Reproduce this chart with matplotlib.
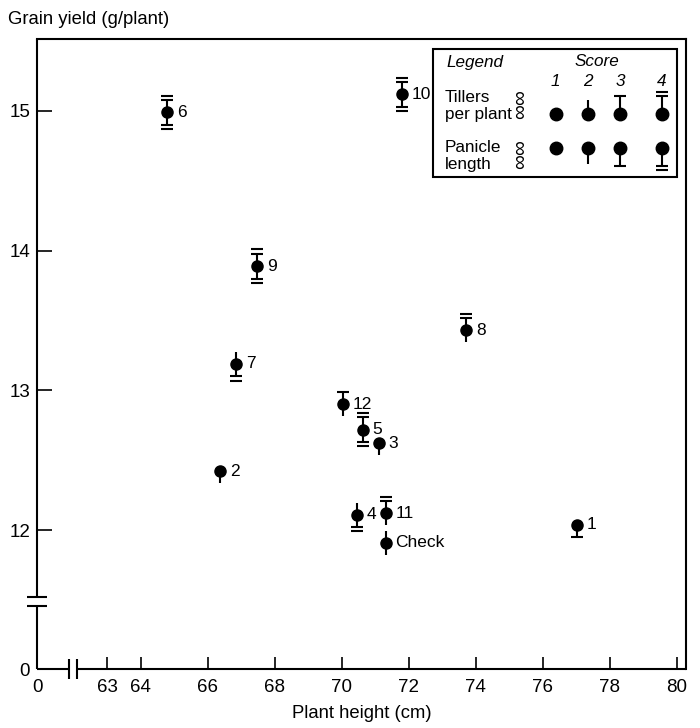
import matplotlib
matplotlib.use('Agg')
import matplotlib.pyplot as plt
from matplotlib.transforms import ScaledTranslation
from matplotlib.patches import Rectangle

plt.rcParams['font.family'] = ['Liberation Sans', 'DejaVu Sans']

# ---- data ----
labels = ['1', '2', '3', '4', '5', '6', '7', '8', '9', '10', '11', '12', 'Check']
plant_height = [77.03, 66.37, 71.12, 70.46, 70.64, 64.79, 66.85, 73.72, 67.48, 71.80, 71.32, 70.04, 71.32]
grain_yield = [12.04, 12.42, 12.62, 12.11, 12.72, 14.99, 13.19, 13.43, 13.89, 15.12, 12.12, 12.90, 11.91]
tillers_score = [1, 1, 1, 2, 4, 4, 2, 4, 4, 4, 4, 3, 2]
panicle_score = [3, 2, 2, 4, 4, 4, 4, 2, 4, 4, 2, 2, 2]

xtick_vals = [63, 64, 66, 68, 70, 72, 74, 76, 78, 80]
ytick_vals = [12, 13, 14, 15]
score_labels = ['1', '2', '3', '4']

XMIN, XMAX = 60.91, 80.28
YMIN, YMAX = 11.006, 15.515

W, H = 700, 728
fig = plt.figure(figsize=(W / 100, H / 100), dpi=100)
ax = fig.add_axes([37 / W, 1 - 669 / H, (686 - 37) / W, (669 - 39) / H])
ax.set_xlim(XMIN, XMAX)
ax.set_ylim(YMIN, YMAX)

LW = 1.5
for s in ['left', 'bottom']:
    ax.spines[s].set_visible(False)
for s in ['top', 'right']:
    ax.spines[s].set_linewidth(LW)

# broken axes drawn by hand
yb_lo, yb_hi = 11.457, 11.521
xb_lo, xb_hi = 61.866, 62.104
dx = 10 / 33.5
dy = 10 / 139.7
kw = dict(color='k', lw=LW, clip_on=False, solid_capstyle='butt')
ax.plot([XMIN, XMIN], [YMIN, yb_lo], **kw)
ax.plot([XMIN, XMIN], [yb_hi, YMAX], **kw)
ax.plot([XMIN - dx, XMIN + dx], [yb_lo, yb_lo], **kw)
ax.plot([XMIN - dx, XMIN + dx], [yb_hi, yb_hi], **kw)
ax.plot([XMIN, xb_lo], [YMIN, YMIN], **kw)
ax.plot([xb_hi, XMAX], [YMIN, YMIN], **kw)
ax.plot([xb_lo, xb_lo], [YMIN - dy, YMIN + dy], **kw)
ax.plot([xb_hi, xb_hi], [YMIN - dy, YMIN + dy], **kw)

ax.set_xticks([XMIN] + xtick_vals)
ax.set_xticklabels(['0'] + [str(v) for v in xtick_vals])
ax.set_yticks([YMIN] + ytick_vals)
ax.set_yticklabels(['0'] + [str(v) for v in ytick_vals])
ax.tick_params(axis='x', direction='in', length=8.6, width=1.2, pad=7, labelsize=13.5)
ax.tick_params(axis='y', direction='in', length=10.8, width=1.2, pad=5, labelsize=13.5)

ax.set_xlabel('Plant height (cm)', fontsize=13.3, labelpad=7)
fig.text(8 / W, 1 - 20 / H, 'Grain yield (g/plant)', fontsize=13.3, ha='left', va='center')


def off(base, dxp, dyp):
    return base + ScaledTranslation(dxp / 72, dyp / 72, fig.dpi_scale_trans)


def glyph(x, y, t, p, base, circ, stem2, cap, cap2, capw, lw):
    ax.plot([x], [y], 'o', ms=circ, color='k', mec='k', transform=base, clip_on=False, zorder=4)
    for sgn, score in [(1, t), (-1, p)]:
        if score >= 2:
            L = stem2 if score == 2 else cap
            ax.plot([x], [y], marker='|', ms=L, mew=lw, color='k',
                    transform=off(base, 0, sgn * L / 2), clip_on=False, zorder=3)
        if score >= 3:
            ax.plot([x], [y], marker='_', ms=capw, mew=lw, color='k',
                    transform=off(base, 0, sgn * cap), clip_on=False, zorder=3)
        if score >= 4:
            ax.plot([x], [y], marker='_', ms=capw, mew=lw, color='k',
                    transform=off(base, 0, sgn * cap2), clip_on=False, zorder=3)


for lab, x, y, t, p in zip(labels, plant_height, grain_yield, tillers_score, panicle_score):
    glyph(x, y, t, p, ax.transData, circ=8.0, stem2=8.6, cap=9.0, cap2=12.0, capw=8.0, lw=1.5)
    ax.annotate(lab, (x, y), xytext=(7.0, 0), textcoords='offset points',
                ha='left', va='center', fontsize=12.5)

# ---- legend box (figure pixel coordinates) ----
def P(px, py):
    return px / W, 1 - py / H


tf = fig.transFigure
x0, y0 = P(433, 177)
x1, y1 = P(677, 49)
fig.patches.append(Rectangle((x0, y0), x1 - x0, y1 - y0, transform=tf, fill=False,
                             lw=LW, edgecolor='k'))
fig.text(*P(446, 62), 'Legend', style='italic', fontsize=12.3, ha='left', va='center')
fig.text(*P(597, 62), 'Score', style='italic', fontsize=12.3, ha='center', va='center')
col_x = [555.7, 588.3, 620, 661.7]
for cx, sl in zip(col_x, score_labels):
    fig.text(*P(cx, 81), sl, style='italic', fontsize=12.3, ha='center', va='center')
fig.text(*P(445, 97), 'Tillers', fontsize=12.3, ha='left', va='center')
fig.text(*P(445, 114), 'per plant', fontsize=12.3, ha='left', va='center')
fig.text(*P(445, 147), 'Panicle', fontsize=12.3, ha='left', va='center')
fig.text(*P(445, 164), 'length', fontsize=12.3, ha='left', va='center')
for yy in [98, 112, 148, 162]:
    fig.text(*P(521, yy), '\u221e', fontsize=15, rotation=90, ha='center', va='center')

for i, cx in enumerate(col_x):
    lx, ly = P(cx, 114)
    glyph(lx, ly, i + 1, 1, tf, circ=9.0, stem2=10.8, cap=13.0, cap2=16.0, capw=8.6, lw=1.5)
    lx, ly = P(cx, 148)
    glyph(lx, ly, 1, i + 1, tf, circ=9.0, stem2=10.8, cap=13.0, cap2=16.0, capw=8.6, lw=1.5)

fig.savefig('out.png', dpi=100)
